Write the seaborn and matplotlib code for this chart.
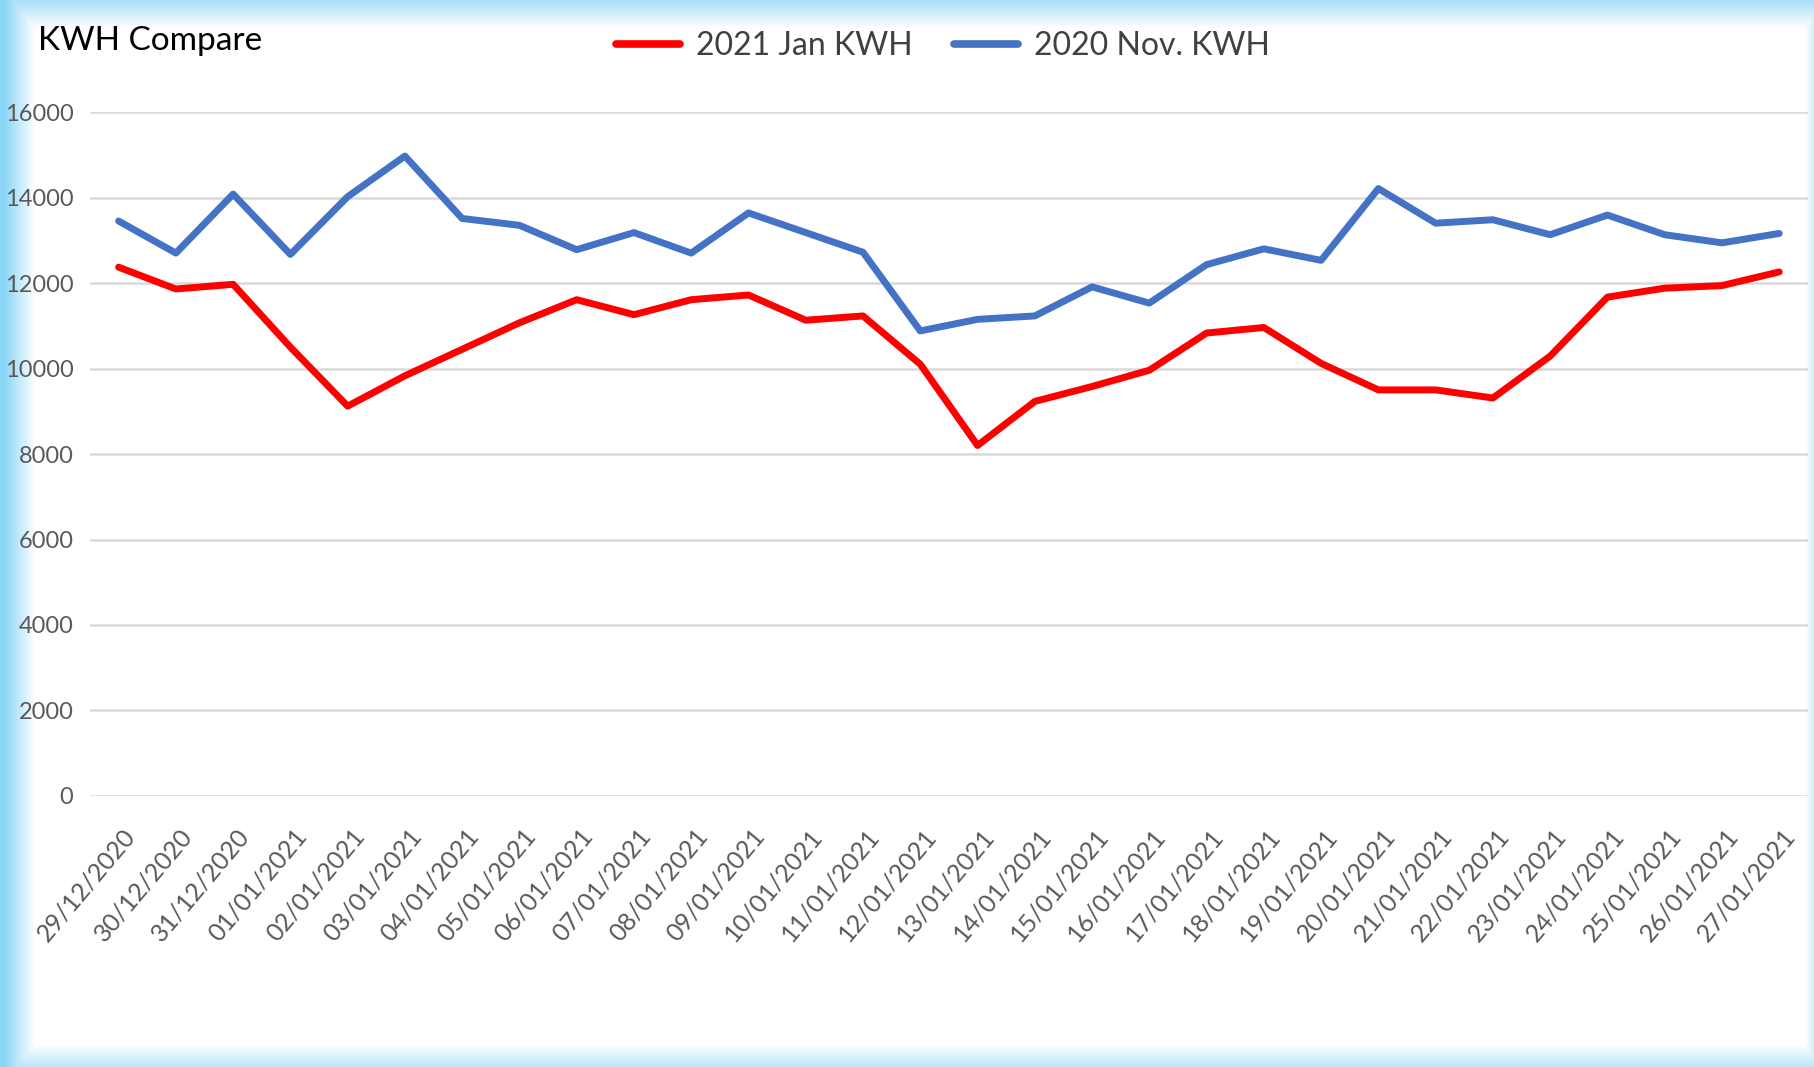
import matplotlib
matplotlib.use("Agg")
import matplotlib.pyplot as plt
import matplotlib.transforms as mtransforms
import numpy as np
import pandas as pd
import seaborn as sns

dates = [
    "29/12/2020", "30/12/2020", "31/12/2020", "01/01/2021", "02/01/2021",
    "03/01/2021", "04/01/2021", "05/01/2021", "06/01/2021", "07/01/2021",
    "08/01/2021", "09/01/2021", "10/01/2021", "11/01/2021", "12/01/2021",
    "13/01/2021", "14/01/2021", "15/01/2021", "16/01/2021", "17/01/2021",
    "18/01/2021", "19/01/2021", "20/01/2021", "21/01/2021", "22/01/2021",
    "23/01/2021", "24/01/2021", "25/01/2021", "26/01/2021", "27/01/2021",
]
jan_2021 = [
    12370, 11860, 11970, 10500, 9120, 9830, 10450, 11070, 11610, 11260,
    11610, 11720, 11130, 11230, 10100, 8200, 9230, 9580, 9960, 10830,
    10960, 10120, 9500, 9500, 9310, 10290, 11670, 11880, 11940, 12260,
]
nov_2020 = [
    13450, 12700, 14080, 12670, 14020, 14970, 13510, 13350, 12780, 13180,
    12700, 13640, 13180, 12720, 10880, 11150, 11230, 11910, 11530, 12430,
    12800, 12530, 14210, 13400, 13480, 13130, 13590, 13130, 12940, 13160,
]
series_names = ["2021 Jan KWH", "2020 Nov. KWH"]
y_ticks = [0, 2000, 4000, 6000, 8000, 10000, 12000, 14000, 16000]

sns.set_theme(style="white")
plt.rcParams["font.family"] = ["Lato", "DejaVu Sans"]

df = pd.DataFrame({"date": dates, series_names[0]: jan_2021, series_names[1]: nov_2020})
long_df = df.melt(id_vars="date", var_name="series", value_name="kwh")

fig = plt.figure(figsize=(18.14, 10.67), dpi=100)

# light blue frame glow around the picture
bg = fig.add_axes([0, 0, 1, 1], zorder=-5)
h, w = 1067, 1814
xx = np.arange(w)[None, :]
yy = np.arange(h)[:, None]
glow = np.maximum.reduce([
    np.clip(1.15 - xx / 30.0, 0, 1) * np.ones((h, 1)),
    np.clip(1 - yy / 28.0, 0, 1) * np.ones((1, w)) * 0.75,
    np.clip(1 - (h - 1 - yy) / 22.0, 0, 1) * np.ones((1, w)) * 0.6,
    np.clip(1 - (w - 1 - xx) / 8.0, 0, 1) * np.ones((h, 1)) * 0.4,
])
edge = np.array([0.55, 0.84, 0.97])
img = 1 - glow[..., None] * (1 - edge)
bg.imshow(img, aspect="auto", extent=[0, 1, 0, 1])
bg.axis("off")

ax = fig.add_axes([0.0496, 0.254, 0.947, 0.641])
ax.set_facecolor("none")
sns.lineplot(
    data=long_df, x="date", y="kwh", hue="series", sort=False,
    palette=["#ff0000", "#4472c4"], linewidth=5, ax=ax,
)

ax.set_xlim(-0.5, len(dates) - 0.5)
ax.set_ylim(0, 16000)
ax.set_yticks(y_ticks)
ax.set_yticklabels([str(v) for v in y_ticks])
ax.grid(axis="y", color="#d9d9d9", linewidth=1.8)
ax.set_axisbelow(True)
for s in ax.spines.values():
    s.set_visible(False)
ax.set_xlabel("")
ax.set_ylabel("")
ax.tick_params(axis="y", length=0, pad=12, labelsize=17, labelcolor="#595959")
ax.tick_params(axis="x", length=0, pad=26, labelsize=18, labelcolor="#595959")
shift = mtransforms.ScaledTranslation(0.12, 0, fig.dpi_scale_trans)
for lbl in ax.get_xticklabels():
    lbl.set_rotation(50)
    lbl.set_ha("right")
    lbl.set_va("center")
    lbl.set_rotation_mode("anchor")
    lbl.set_transform(lbl.get_transform() + shift)

ax.get_legend().remove()
handles, labels = ax.get_legend_handles_labels()
leg = fig.legend(
    handles, labels, loc="center", bbox_to_anchor=(0.52, 0.957), ncol=2,
    frameon=False, fontsize=23, handlelength=2.0, columnspacing=1.3, handletextpad=0.5,
)
for t in leg.get_texts():
    t.set_color("#404040")
for line in leg.get_lines():
    line.set_linewidth(5.5)

fig.text(0.021, 0.962, "KWH Compare", fontsize=24, color="black", va="center", ha="left")

fig.savefig("out.png", dpi=100)
plt.close(fig)
